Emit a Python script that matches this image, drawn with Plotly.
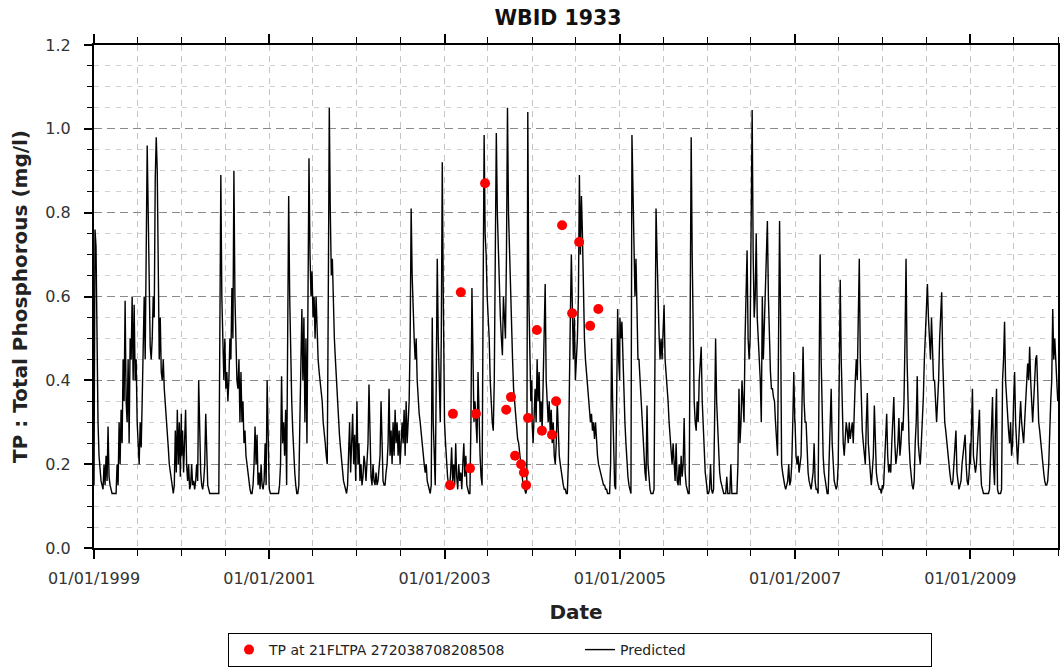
import pandas as pd
import plotly.graph_objects as go

# ---------------- Predicted TP (mg/l), sampled evenly through each calendar year ----------------
tp_1999 = [0.15, 0.76, 0.72, 0.45, 0.3, 0.22, 0.18, 0.16, 0.15, 0.14,
           0.2, 0.15, 0.22, 0.16, 0.29, 0.17, 0.15, 0.14, 0.13, 0.13,
           0.13, 0.13, 0.13, 0.2, 0.15, 0.3, 0.2, 0.33, 0.25, 0.45,
           0.35, 0.59, 0.35, 0.3, 0.45, 0.25, 0.5, 0.45, 0.6, 0.4,
           0.58, 0.4, 0.45, 0.3, 0.25, 0.2, 0.3, 0.24, 0.35, 0.5,
           0.6, 0.45, 0.7, 0.96, 0.8, 0.55, 0.48, 0.45, 0.5, 0.6,
           0.55, 0.88, 0.98, 0.9, 0.6, 0.45, 0.55, 0.42, 0.4, 0.45,
           0.38, 0.35, 0.3, 0.27, 0.24, 0.2, 0.18, 0.16, 0.14, 0.13,
           0.15, 0.28, 0.18, 0.33, 0.2, 0.3, 0.17, 0.32]
tp_2000 = [0.22, 0.28, 0.18, 0.25, 0.33, 0.2, 0.16, 0.2, 0.14, 0.15,
           0.2, 0.15, 0.16, 0.14, 0.16, 0.2, 0.16, 0.4, 0.25, 0.18,
           0.15, 0.14, 0.16, 0.2, 0.32, 0.2, 0.15, 0.14, 0.13, 0.13,
           0.13, 0.13, 0.13, 0.13, 0.13, 0.13, 0.13, 0.13, 0.5, 0.89,
           0.6, 0.45, 0.4, 0.5, 0.38, 0.42, 0.35, 0.4, 0.5, 0.45,
           0.62, 0.5, 0.9, 0.6, 0.45, 0.4, 0.38, 0.45, 0.3, 0.42,
           0.3, 0.35, 0.25, 0.28, 0.22, 0.2, 0.17, 0.15, 0.14, 0.13,
           0.13, 0.15, 0.2, 0.29, 0.2, 0.27, 0.15, 0.18, 0.14, 0.2,
           0.15, 0.14, 0.16, 0.25, 0.15, 0.4, 0.2, 0.15]
tp_2001 = [0.14, 0.13, 0.13, 0.13, 0.13, 0.13, 0.13, 0.13, 0.13, 0.13,
           0.15, 0.2, 0.41, 0.25, 0.3, 0.22, 0.33, 0.15, 0.5, 0.84,
           0.6, 0.45, 0.35, 0.28, 0.22, 0.18, 0.15, 0.13, 0.13, 0.15,
           0.3, 0.45, 0.57, 0.4, 0.55, 0.3, 0.5, 0.25, 0.6, 0.93,
           0.7, 0.6, 0.66, 0.55, 0.6, 0.5, 0.6, 0.5, 0.45, 0.42,
           0.4, 0.38, 0.35, 0.3, 0.28, 0.25, 0.22, 0.2, 0.6, 1.05,
           0.8, 0.65, 0.69, 0.58, 0.5, 0.45, 0.4, 0.35, 0.3, 0.27,
           0.24, 0.21, 0.18, 0.16, 0.15, 0.14, 0.13, 0.15, 0.22, 0.3,
           0.18, 0.25, 0.32, 0.2, 0.27, 0.16, 0.3]
tp_2002 = [0.35, 0.2, 0.25, 0.16, 0.2, 0.15, 0.17, 0.22, 0.2, 0.16,
           0.2, 0.25, 0.39, 0.22, 0.17, 0.15, 0.2, 0.16, 0.15, 0.18,
           0.15, 0.16, 0.2, 0.22, 0.35, 0.2, 0.16, 0.15, 0.15, 0.18,
           0.2, 0.25, 0.38, 0.22, 0.28, 0.2, 0.3, 0.22, 0.33, 0.25,
           0.3, 0.22, 0.28, 0.2, 0.25, 0.3, 0.25, 0.33, 0.22, 0.35,
           0.25, 0.3, 0.35, 0.5, 0.81, 0.65, 0.55, 0.5, 0.45, 0.5,
           0.4, 0.35, 0.32, 0.3, 0.27, 0.25, 0.22, 0.2, 0.18, 0.2,
           0.16, 0.15, 0.14, 0.13, 0.15, 0.55, 0.3, 0.2, 0.15, 0.4,
           0.69, 0.5, 0.35, 0.3, 0.5, 0.92, 0.6, 0.4]
tp_2003 = [0.3, 0.25, 0.2, 0.17, 0.15, 0.14, 0.18, 0.24, 0.16, 0.2,
           0.15, 0.25, 0.17, 0.14, 0.2, 0.16, 0.18, 0.14, 0.2, 0.25,
           0.17, 0.22, 0.15, 0.14, 0.13, 0.13, 0.3, 0.62, 0.4, 0.3,
           0.35, 0.3, 0.25, 0.42, 0.3, 0.22, 0.17, 0.15, 0.6, 0.985,
           0.75, 0.7, 0.6, 0.55, 0.5, 0.4, 0.33, 0.3, 0.28, 0.4,
           0.7, 0.99, 0.8, 0.7, 0.65, 0.55, 0.5, 0.46, 0.6, 0.55,
           0.5, 0.7, 1.05, 0.8, 0.7, 0.6, 0.55, 0.45, 0.38, 0.35,
           0.3, 0.28, 0.26, 0.25, 0.22, 0.2, 0.18, 0.16, 0.15, 0.14,
           0.13, 0.14, 1.04, 0.6, 0.45, 0.35, 0.4]
tp_2004 = [0.3, 0.25, 0.3, 0.38, 0.3, 0.45, 0.35, 0.42, 0.3, 0.35,
           0.28, 0.4, 0.45, 0.63, 0.4, 0.35, 0.3, 0.35, 0.28, 0.33,
           0.25, 0.3, 0.22, 0.2, 0.25, 0.35, 0.25, 0.22, 0.2, 0.18,
           0.16, 0.15, 0.14, 0.14, 0.13, 0.13, 0.2, 0.45, 0.55, 0.7,
           0.5, 0.45, 0.55, 0.4, 0.45, 0.5, 0.6, 0.89, 0.7, 0.84,
           0.75, 0.6, 0.5, 0.45, 0.42, 0.4, 0.35, 0.33, 0.3, 0.32,
           0.28, 0.3, 0.26, 0.3, 0.25, 0.22, 0.2, 0.19, 0.18, 0.17,
           0.16, 0.15, 0.15, 0.14, 0.14, 0.13, 0.13, 0.13, 0.2, 0.5,
           0.35, 0.2, 0.15, 0.14, 0.3, 0.57, 0.45, 0.4]
tp_2005 = [0.55, 0.5, 0.54, 0.45, 0.35, 0.3, 0.25, 0.2, 0.17, 0.15,
           0.14, 0.13, 0.985, 0.85, 0.69, 0.6, 0.69, 0.5, 0.45, 0.45,
           0.4, 0.35, 0.3, 0.25, 0.22, 0.18, 0.16, 0.34, 0.2, 0.16,
           0.14, 0.13, 0.13, 0.13, 0.14, 0.5, 0.81, 0.7, 0.55, 0.51,
           0.45, 0.5, 0.45, 0.5, 0.58, 0.45, 0.42, 0.4, 0.35, 0.3,
           0.27, 0.22, 0.2, 0.25, 0.18, 0.16, 0.25, 0.16, 0.15, 0.2,
           0.15, 0.22, 0.17, 0.2, 0.31, 0.18, 0.15, 0.14, 0.13, 0.13,
           0.5, 0.98, 0.7, 0.45, 0.35, 0.3, 0.28, 0.35, 0.3, 0.4,
           0.45, 0.48, 0.35, 0.28, 0.22, 0.18, 0.16, 0.14]
tp_2006 = [0.13, 0.13, 0.14, 0.2, 0.14, 0.13, 0.14, 0.3, 0.5, 0.35,
           0.28, 0.22, 0.18, 0.16, 0.15, 0.14, 0.13, 0.13, 0.13, 0.17,
           0.13, 0.13, 0.13, 0.2, 0.13, 0.13, 0.13, 0.13, 0.13, 0.13,
           0.2, 0.38, 0.25, 0.3, 0.4, 0.35, 0.3, 0.5, 0.6, 0.71,
           0.5, 0.45, 0.5, 0.75, 1.045, 0.7, 0.55, 0.6, 0.75, 0.55,
           0.5, 0.45, 0.4, 0.3, 0.6, 0.45, 0.55, 0.6, 0.7, 0.78,
           0.6, 0.5, 0.42, 0.38, 0.38, 0.36, 0.35, 0.3, 0.25, 0.22,
           0.5, 0.78, 0.55, 0.2, 0.18, 0.16, 0.15, 0.14, 0.15, 0.16,
           0.2, 0.15, 0.16, 0.2, 0.3, 0.42, 0.3]
tp_2007 = [0.3, 0.22, 0.2, 0.22, 0.18, 0.2, 0.22, 0.35, 0.48, 0.35,
           0.3, 0.3, 0.22, 0.18, 0.16, 0.15, 0.14, 0.16, 0.18, 0.25,
           0.16, 0.14, 0.14, 0.13, 0.35, 0.7, 0.45, 0.3, 0.22, 0.18,
           0.16, 0.14, 0.13, 0.13, 0.2, 0.3, 0.38, 0.25, 0.2, 0.16,
           0.15, 0.14, 0.15, 0.2, 0.4, 0.64, 0.45, 0.3, 0.25, 0.22,
           0.25, 0.3, 0.28, 0.25, 0.3, 0.26, 0.28, 0.3, 0.25, 0.35,
           0.4, 0.45, 0.4, 0.55, 0.69, 0.45, 0.32, 0.28, 0.25, 0.22,
           0.2, 0.3, 0.37, 0.25, 0.2, 0.18, 0.15, 0.2, 0.22, 0.34,
           0.22, 0.18, 0.16, 0.15, 0.14, 0.14, 0.13, 0.15]
tp_2008 = [0.14, 0.15, 0.2, 0.25, 0.32, 0.22, 0.18, 0.2, 0.18, 0.25,
           0.3, 0.36, 0.25, 0.2, 0.22, 0.25, 0.31, 0.22, 0.25, 0.3,
           0.28, 0.35, 0.5, 0.69, 0.45, 0.32, 0.25, 0.2, 0.17, 0.15,
           0.14, 0.16, 0.25, 0.3, 0.41, 0.25, 0.22, 0.2, 0.25, 0.3,
           0.36, 0.45, 0.5, 0.55, 0.63, 0.55, 0.5, 0.45, 0.55, 0.45,
           0.4, 0.4, 0.33, 0.3, 0.35, 0.4, 0.5, 0.55, 0.61, 0.45,
           0.35, 0.3, 0.28, 0.25, 0.22, 0.2, 0.18, 0.16, 0.15, 0.16,
           0.2, 0.22, 0.28, 0.18, 0.15, 0.14, 0.15, 0.16, 0.2, 0.22,
           0.25, 0.27, 0.2, 0.16, 0.15, 0.18, 0.25]
tp_2009 = [0.2, 0.28, 0.38, 0.22, 0.2, 0.18, 0.2, 0.25, 0.3, 0.33,
           0.2, 0.15, 0.14, 0.13, 0.13, 0.13, 0.13, 0.13, 0.13, 0.14,
           0.2, 0.3, 0.36, 0.2, 0.15, 0.3, 0.38, 0.14, 0.13, 0.13,
           0.13, 0.14, 0.4, 0.45, 0.54, 0.4, 0.35, 0.3, 0.28, 0.25,
           0.3, 0.22, 0.25, 0.35, 0.42, 0.3, 0.25, 0.2, 0.25, 0.3,
           0.35, 0.3, 0.28, 0.25, 0.3, 0.35, 0.4, 0.44, 0.4, 0.48,
           0.4, 0.35, 0.3, 0.35, 0.4, 0.45, 0.46, 0.35, 0.3, 0.28,
           0.25, 0.22, 0.2, 0.18, 0.16, 0.15, 0.15, 0.16, 0.2, 0.3,
           0.35, 0.4, 0.57, 0.45, 0.5, 0.45, 0.4, 0.35]

pred_years = [1999, 2000, 2001, 2002, 2003, 2004, 2005, 2006, 2007, 2008, 2009]
pred_values = [tp_1999, tp_2000, tp_2001, tp_2002, tp_2003, tp_2004,
               tp_2005, tp_2006, tp_2007, tp_2008, tp_2009]

# ---------------- Observed TP at station 21FLTPA 272038708208508 ----------------
obs_dates = ["2003-01-24", "2003-02-05", "2003-03-10", "2003-04-17", "2003-05-12",
             "2003-06-19", "2003-09-15", "2003-10-05", "2003-10-22", "2003-11-16",
             "2003-11-28", "2003-12-07", "2003-12-15", "2004-01-21", "2004-02-11",
             "2004-03-24", "2004-04-10", "2004-05-05", "2004-06-16", "2004-07-15",
             "2004-08-30", "2004-10-03"]
obs_tp = [0.15, 0.32, 0.61, 0.19, 0.32,
          0.87, 0.33, 0.36, 0.22, 0.20,
          0.18, 0.15, 0.31, 0.52, 0.28,
          0.27, 0.35, 0.77, 0.56, 0.73,
          0.53, 0.57]

title_text = "WBID 1933"
x_title = "Date"
y_title = "TP : Total Phosphorous (mg/l)"
obs_name = "TP at 21FLTPA 272038708208508"
pred_name = "Predicted"

# build predicted date axis
pred_x, pred_y = [], []
for yr, vals in zip(pred_years, pred_values):
    d = pd.date_range(f"{yr}-01-01", f"{yr}-12-31", periods=len(vals))
    pred_x.extend(list(d))
    pred_y.extend(vals)

FONT = "DejaVu Sans"

fig = go.Figure()
fig.add_trace(go.Scatter(
    x=pred_x, y=pred_y, mode="lines", name=pred_name,
    line=dict(color="#000000", width=1.4),
))
fig.add_trace(go.Scatter(
    x=pd.to_datetime(obs_dates), y=obs_tp, mode="markers", name=obs_name,
    marker=dict(color="#ff0000", size=10, line=dict(width=0)),
))

fig.update_layout(
    width=1060, height=668,
    paper_bgcolor="white", plot_bgcolor="white",
    margin=dict(l=94, r=2, t=45, b=120, autoexpand=False),
    font=dict(family=FONT, color="#333333", size=16),
    title=dict(text=f"<b>{title_text}</b>", x=558 / 1060, xanchor="center",
               y=1 - 18 / 668, yanchor="middle",
               font=dict(family=FONT, size=20.5, color="#111111")),
    showlegend=True,
    legend=dict(
        orientation="h", x=(228 - 94) / 964, xanchor="left",
        y=(548 - 650) / 503, yanchor="middle",
        bordercolor="#000000", borderwidth=1, bgcolor="white",
        font=dict(family=FONT, size=14, color="#222222"),
        entrywidth=306, entrywidthmode="pixels",
        traceorder="reversed",
    ),
    xaxis=dict(
        range=["1999-01-01", "2010-01-01"],
        type="date", automargin=False,
        tick0="1999-01-01", dtick="M24", tickformat="%m/%d/%Y",
        ticks="outside", ticklen=9, tickwidth=1.5, tickcolor="#000",
        ticklabelstandoff=6,
        showline=True, linecolor="#000", linewidth=2, mirror="allticks",
        showgrid=True, gridcolor="#c4c4c4", griddash="6px,5px", gridwidth=1,
        zeroline=False,
        tickfont=dict(family=FONT, size=16, color="#333333"),
        title=dict(text=f"<b>{x_title}</b>", standoff=18,
                   font=dict(family=FONT, size=20, color="#222222")),
        minor=dict(dtick="M6", tick0="1999-01-01", ticks="outside", ticklen=6,
                   tickwidth=1.2, tickcolor="#000", showgrid=True,
                   gridcolor="#c4c4c4", griddash="6px,5px", gridwidth=1),
    ),
    yaxis=dict(
        range=[0, 1.2], tick0=0, dtick=0.2, tickformat=".1f", automargin=False,
        ticks="outside", ticklen=8, tickwidth=1.5, tickcolor="#000",
        ticklabelstandoff=10,
        showline=True, linecolor="#000", linewidth=2, mirror="allticks",
        showgrid=True, gridcolor="#8a8a8a", griddash="8px,5px", gridwidth=1,
        zeroline=False,
        tickfont=dict(family=FONT, size=16, color="#333333"),
        title=dict(text=f"<b>{y_title}</b>", standoff=12,
                   font=dict(family=FONT, size=20, color="#222222")),
        minor=dict(dtick=0.05, tick0=0, ticks="outside", ticklen=5,
                   tickwidth=1.2, tickcolor="#000", showgrid=True,
                   gridcolor="#d0d0d0", griddash="5px,6px", gridwidth=1),
    ),
)

fig.write_html("out.html",
               config={"displayModeBar": False},
               post_script="document.body.style.margin='0px';document.body.style.overflow='hidden';")
